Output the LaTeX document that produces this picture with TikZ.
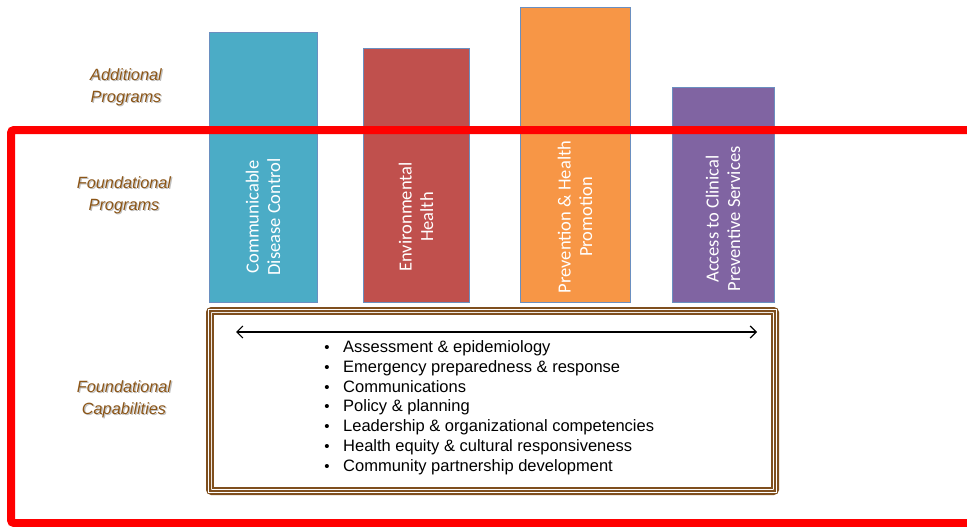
\documentclass[tikz,border=0pt]{standalone}
\usepackage{fontspec}
\setmainfont{Liberation Sans}
\newfontfamily\barfont{Carlito}
\usetikzlibrary{arrows.meta}
\definecolor{cblue}{HTML}{4BACC6}
\definecolor{cred}{HTML}{C0504D}
\definecolor{corange}{HTML}{F79646}
\definecolor{cpurple}{HTML}{8064A2}
\definecolor{cedge}{HTML}{6A8FC0}
\definecolor{cbrown}{HTML}{7F4F1E}
\definecolor{clabel}{HTML}{8B5517}
\definecolor{cframe}{HTML}{FF0000}
\tikzset{
  progbar/.style={draw=cedge, line width=0.9pt},
  bartext/.style={text=white, rotate=90, align=center, font=\barfont\fontsize{18.5}{21.5}\selectfont},
  rowlabel/.style={text=clabel, align=center, font=\itshape\fontsize{16.3}{22}\selectfont},
  labshadow/.style={rowlabel, text=black!25},
  item/.style={anchor=base west, font=\fontsize{16.5}{17}\selectfont, inner sep=0pt}
}
\begin{document}
\begin{tikzpicture}[x=1pt,y=-1pt]
\useasboundingbox (0,0) rectangle (967,527);
% bars
\fill[cblue] (209,32) rectangle (317,302);
\draw[progbar] (209,32) rectangle (317,302);
\fill[cred] (363,48) rectangle (469,302);
\draw[progbar] (363,48) rectangle (469,302);
\fill[corange] (520,7) rectangle (630,302);
\draw[progbar] (520,7) rectangle (630,302);
\fill[cpurple] (672,87) rectangle (774,302);
\draw[progbar] (672,87) rectangle (774,302);
\node[bartext] (b1) at (263,217) {Communicable\\Disease Control};
\node[bartext] (b2) at (416,217) {Environmental\\Health};
\node[bartext] (b3) at (575,217) {Prevention \& Health\\Promotion};
\node[bartext] (b4) at (723,219) {Access to Clinical\\Preventive Services};
% red frame
\draw[cframe, line width=8pt, rounded corners=3pt] (11,130) rectangle (985,523);
% row labels (with light shadow)
\node[labshadow] (s1) at (127.2,88.2) {Additional\\Programs};
\node[labshadow] (s2) at (125.2,196.2) {Foundational\\Programs};
\node[labshadow] (s3) at (125.2,400.2) {Foundational\\Capabilities};
\node[rowlabel] (l1) at (126,87) {Additional\\Programs};
\node[rowlabel] (l2) at (124,195) {Foundational\\Programs};
\node[rowlabel] (l3) at (124,399) {Foundational\\Capabilities};
% capabilities box
\draw[cbrown, line width=5pt, rounded corners=3pt] (208.5,309.5) rectangle (776.5,492.5);
\draw[white, line width=1.2pt] (208.5,309.5) rectangle (776.5,492.5);
\draw[cbrown, line width=1.2pt] (213,314) rectangle (772,488);
\coordinate (al) at (236,332);
\coordinate (ar) at (757,332);
\draw[{Straight Barb[length=6pt,width=12pt]}-{Straight Barb[length=6pt,width=12pt]}, line width=1.2pt] (al) -- (ar);
\foreach \t [count=\i] in {Assessment \& epidemiology, Emergency preparedness \& response, Communications, Policy \& planning, Leadership \& organizational competencies, Health equity \& cultural responsiveness, Community partnership development}{
  \node[item] (it\i) at (343,{352.5+19.8*(\i-1)}) {\t};
  \node[inner sep=0pt, anchor=base, font=\fontsize{15}{17}\selectfont] (bu\i) at (327,{352.5+19.8*(\i-1)}) {\textbullet};
}
\end{tikzpicture}
\end{document}
